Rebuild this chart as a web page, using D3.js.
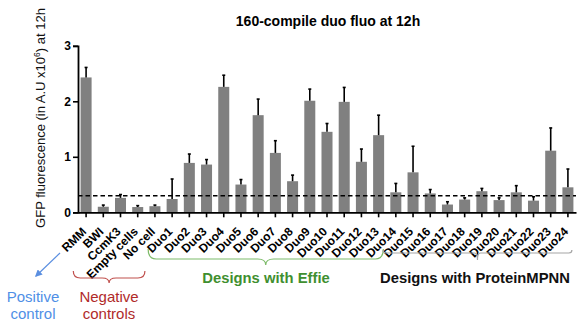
<!DOCTYPE html>
<html>
<head>
<meta charset="utf-8">
<script src="https://cdn.jsdelivr.net/npm/d3@7"></script>
<style>
  body { margin: 0; background: #fff; }
  svg { font-family: "Liberation Sans", Arial, sans-serif; }
</style>
</head>
<body>
<svg width="578" height="322"></svg>
<script>
const categories = ["RMM", "BWI", "CcmK3", "Empty cells", "No cell",
  "Duo1", "Duo2", "Duo3", "Duo4", "Duo5", "Duo6", "Duo7", "Duo8", "Duo9", "Duo10",
  "Duo11", "Duo12", "Duo13", "Duo14", "Duo15", "Duo16", "Duo17", "Duo18", "Duo19",
  "Duo20", "Duo21", "Duo22", "Duo23", "Duo24"];
const means = [2.43, 0.10, 0.26, 0.095, 0.11,
  0.24, 0.89, 0.86, 2.26, 0.50, 1.75, 1.07, 0.56, 2.01, 1.45,
  1.99, 0.91, 1.39, 0.36, 0.72, 0.34, 0.14, 0.23, 0.38,
  0.22, 0.36, 0.21, 1.11, 0.45];
const errors = [0.18, 0.03, 0.06, 0.025, 0.02,
  0.36, 0.16, 0.09, 0.21, 0.09, 0.29, 0.22, 0.11, 0.21, 0.15,
  0.26, 0.23, 0.36, 0.16, 0.47, 0.07, 0.05, 0.03, 0.05,
  0.04, 0.12, 0.07, 0.41, 0.33];
const yTicks = [0, 1, 2, 3];
const threshold = 0.3;

const svg = d3.select("svg");

const x = d3.scaleBand()
  .domain(categories)
  .range([78, 576])
  .paddingInner(0.36)
  .paddingOuter(0.15);

const y = d3.scaleLinear().domain([0, 3]).range([212.3, 45.8]);

const cx = (c) => x(c) + x.bandwidth() / 2;

// title
svg.append("text")
  .attr("x", 328)
  .attr("y", 26)
  .attr("text-anchor", "middle")
  .attr("font-size", 14)
  .attr("font-weight", "bold")
  .text("160-compile duo fluo at 12h");

// y axis label
const yl = svg.append("text")
  .attr("transform", "translate(45, 118) rotate(-90)")
  .attr("text-anchor", "middle")
  .attr("font-size", 13)
  .attr("fill", "#111");
yl.append("tspan").text("GFP fluorescence (in A.U x10");
yl.append("tspan").attr("font-size", 8.5).attr("dy", -5).text("6");
yl.append("tspan").attr("dy", 5).text(") at 12h");

// bars
svg.append("g")
  .selectAll("rect")
  .data(categories)
  .join("rect")
  .attr("x", (c) => x(c))
  .attr("y", (c, i) => y(means[i]))
  .attr("width", x.bandwidth())
  .attr("height", (c, i) => y(0) - y(means[i]))
  .attr("fill", "#808080");

// error bars (upper only)
const eb = svg.append("g").attr("stroke", "#000").attr("stroke-width", 1.6);
eb.selectAll("line.v")
  .data(categories)
  .join("line")
  .attr("class", "v")
  .attr("x1", cx).attr("x2", cx)
  .attr("y1", (c, i) => y(means[i]))
  .attr("y2", (c, i) => y(means[i] + errors[i]));
eb.selectAll("line.c")
  .data(categories)
  .join("line")
  .attr("class", "c")
  .attr("x1", (c) => cx(c) - 1.5).attr("x2", (c) => cx(c) + 1.5)
  .attr("y1", (c, i) => y(means[i] + errors[i]))
  .attr("y2", (c, i) => y(means[i] + errors[i]));

// threshold line
svg.append("line")
  .attr("x1", 78).attr("x2", 576)
  .attr("y1", y(threshold)).attr("y2", y(threshold))
  .attr("stroke", "#000")
  .attr("stroke-width", 1.5)
  .attr("stroke-dasharray", "4.5,3");

// y axis
const yAxis = svg.append("g")
  .attr("transform", "translate(78,0)")
  .call(d3.axisLeft(y).tickValues(yTicks).tickSize(5).tickFormat(d3.format("d")));
yAxis.select(".domain").attr("stroke-width", 1.8);
yAxis.selectAll(".tick line").attr("stroke-width", 1.6);
yAxis.selectAll(".tick text")
  .attr("font-size", 12).attr("font-weight", "bold")
  .attr("font-family", "Liberation Sans, Arial, sans-serif")
  .attr("x", -7);

// x axis
const xAxis = svg.append("g")
  .attr("transform", `translate(0,${y(0)})`)
  .call(d3.axisBottom(x).tickSize(5).tickSizeOuter(0));
xAxis.select(".domain").attr("stroke-width", 1.8);
xAxis.selectAll(".tick line").attr("stroke-width", 1.6);
xAxis.selectAll(".tick text")
  .attr("font-size", 12).attr("font-weight", "bold")
  .attr("font-family", "Liberation Sans, Arial, sans-serif")
  .attr("text-anchor", "end")
  .attr("y", 0)
  .attr("dy", "0.71em")
  .attr("transform", "translate(-5,14) rotate(-45)");

// braces
const brace = (x1, x2, yEnd, yFlat, yTip) => {
  const xm = (x1 + x2) / 2, r = Math.min(yFlat - yEnd, 8);
  return `M${x1},${yEnd} Q${x1},${yFlat} ${x1 + r},${yFlat} L${xm - r},${yFlat} ` +
    `Q${xm},${yFlat} ${xm},${yTip} Q${xm},${yFlat} ${xm + r},${yFlat} ` +
    `L${x2 - r},${yFlat} Q${x2},${yFlat} ${x2},${yEnd}`;
};

svg.append("path")
  .attr("d", brace(cx("BWI") - 30, cx("No cell") - 10, 271, 278, 283))
  .attr("fill", "none").attr("stroke", "#c0504d").attr("stroke-width", 1.2);
svg.append("path")
  .attr("d", brace(cx("Duo1") - 24, cx("Duo14") - 12.5, 249, 259, 265))
  .attr("fill", "none").attr("stroke", "#7dbb6a").attr("stroke-width", 1.2);
svg.append("path")
  .attr("d", brace(cx("Duo15") - 30, cx("Duo24") + 4, 250, 253, 260))
  .attr("fill", "none").attr("stroke", "#a6a6a6").attr("stroke-width", 1.2);

// arrow to positive control
svg.append("defs").append("marker")
  .attr("id", "ah")
  .attr("viewBox", "0 0 10 10")
  .attr("refX", 8).attr("refY", 5)
  .attr("markerWidth", 6).attr("markerHeight", 6)
  .attr("orient", "auto")
  .append("path").attr("d", "M0,0 L10,5 L0,10 z").attr("fill", "#5b8fe0");
svg.append("line")
  .attr("x1", 60).attr("y1", 253).attr("x2", 36).attr("y2", 276)
  .attr("stroke", "#5b8fe0").attr("stroke-width", 1.2)
  .attr("marker-end", "url(#ah)");

// group labels
const label = (lines, xc, y0, color, weight, size) => {
  const t = svg.append("text")
    .attr("text-anchor", "middle")
    .attr("font-size", size)
    .attr("font-weight", weight)
    .attr("fill", color);
  lines.forEach((s, i) => t.append("tspan").attr("x", xc).attr("y", y0 + i * 16.5).text(s));
};
label(["Positive", "control"], 33, 302, "#4f8fe6", "normal", 15);
label(["Negative", "controls"], 109, 302, "#b02a2a", "normal", 15);
label(["Designs with Effie"], 266, 283, "#3f8f30", "bold", 14.8);
label(["Designs with ProteinMPNN"], 475, 283, "#111", "bold", 14.8);
</script>
</body>
</html>
